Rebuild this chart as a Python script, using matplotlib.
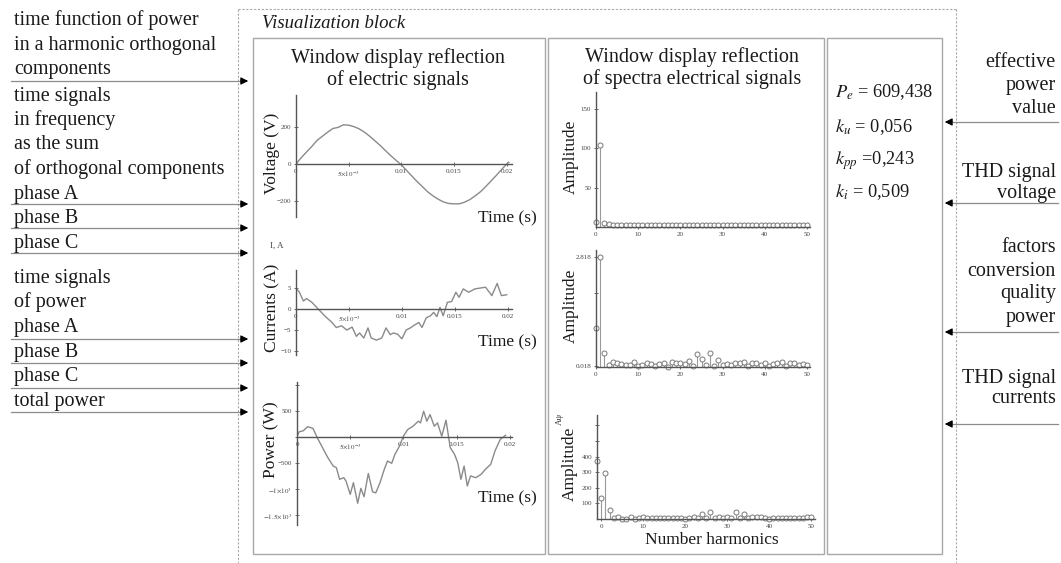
"""Visualization block: signal windows, spectra and quality factors."""

import matplotlib

matplotlib.use("Agg")
import matplotlib.pyplot as plt  # noqa: E402
from matplotlib.patches import Rectangle  # noqa: E402

plt.rcParams["font.family"] = ["Liberation Serif", "DejaVu Serif"]
plt.rcParams["mathtext.fontset"] = "stix"

W, H = 1061, 563

# ---- time signals ----
volt_t = [0, 0.0005, 0.001, 0.0015, 0.002, 0.0025, 0.003, 0.0035, 0.004, 0.0045,
          0.005, 0.0055, 0.006, 0.0065, 0.007, 0.0075, 0.008, 0.0085, 0.009, 0.0095,
          0.01, 0.0105, 0.011, 0.0115, 0.012, 0.0125, 0.013, 0.0135, 0.014, 0.0145,
          0.015, 0.0155, 0.016, 0.0165, 0.017, 0.0175, 0.018, 0.0185, 0.019, 0.0195,
          0.02, 0.0202]
volt_v = [0, 35, 65, 95, 128, 150, 172, 192, 198, 212,
          210, 202, 190, 172, 150, 125, 100, 72, 45, 20,
          -5, -35, -65, -95, -122, -150, -172, -190, -205, -213,
          -215, -215, -206, -192, -172, -150, -122, -92, -62, -30,
          0, 10]

curr_t = [0, 0.0003, 0.0007, 0.001, 0.0015, 0.0021, 0.0027, 0.0034, 0.0038, 0.0043,
          0.0048, 0.0053, 0.0057, 0.006, 0.0064, 0.0068, 0.0071, 0.0076, 0.0081, 0.0085,
          0.0089, 0.0092, 0.0096, 0.01, 0.0104, 0.0108, 0.0112, 0.0116, 0.0119, 0.0123,
          0.0127, 0.013, 0.0133, 0.0136, 0.0139, 0.0143, 0.0147, 0.0151, 0.0154, 0.0158,
          0.0163, 0.0169, 0.0179, 0.0185, 0.019, 0.0194, 0.0199]
curr_i = [4.9, 4.1, 1.9, 2.5, 1.6, 0.0, -1.6, -3.2, -4.4, -4.0,
          -5.0, -4.3, -6.5, -5.7, -6.9, -4.5, -6.9, -7.4, -6.9, -4.5,
          -6.1, -5.7, -6.0, -7.1, -5.0, -4.5, -3.8, -3.2, -4.4, -2.1,
          -1.6, -0.8, -1.8, 0.4, -1.6, 1.6, 1.8, 4.0, 2.8, 4.8,
          4.0, 4.8, 5.2, 3.2, 6.1, 3.2, 3.4]

pow_t = [0, 0.0002, 0.0006, 0.001, 0.0015, 0.0019, 0.0024, 0.0029, 0.0034, 0.0037,
         0.004, 0.0044, 0.0046, 0.005, 0.0053, 0.0057, 0.006, 0.0063, 0.0067, 0.0071,
         0.0074, 0.0078, 0.0082, 0.0085, 0.0089, 0.0092, 0.0096, 0.01, 0.0104, 0.0109,
         0.0114, 0.0116, 0.0119, 0.0122, 0.0125, 0.0129, 0.0132, 0.0136, 0.014, 0.0144,
         0.0148, 0.0151, 0.0154, 0.0157, 0.016, 0.0163, 0.0168, 0.0173, 0.0177, 0.0182,
         0.0186, 0.0191, 0.0196]
pow_p = [5, 100, 121, 198, 166, -13, -205, -397, -557, -589,
         -813, -781, -845, -1101, -877, -1273, -987, -1147, -701, -1053,
         -1073, -877, -621, -461, -505, -333, -186, 15, 143, 207,
         303, 271, 495, 303, 431, 207, 271, 15, 322, -205,
         -333, -493, -813, -557, -941, -749, -781, -717, -621, -525,
         -269, -45, 32]

# ---- spectra ----
harm = list(range(51))
spec_u = [6, 104, 5.5, 4, 3, 3, 2.5, 2.5, 3, 2.5,
          2, 2.5, 2.5, 2, 3, 2.5, 2, 2, 2.5, 2,
          2, 2.5, 2, 2, 2.5, 2, 2.5, 2, 2, 2.5,
          2, 2.5, 2, 2, 2.5, 2, 2.5, 3, 2, 2,
          2.5, 2, 2, 2.5, 3, 2.5, 2, 2, 2.5, 2, 2.5]
spec_i = [1.0, 2.818, 0.36, 0.05, 0.13, 0.09, 0.07, 0.06, 0.05, 0.12,
          0.03, 0.04, 0.10, 0.08, 0.02, 0.08, 0.10, 0.01, 0.14, 0.09,
          0.11, 0.08, 0.15, 0.03, 0.34, 0.20, 0.05, 0.35, 0.03, 0.18,
          0.04, 0.07, 0.05, 0.09, 0.10, 0.13, 0.02, 0.10, 0.09, 0.05,
          0.09, 0.03, 0.07, 0.10, 0.12, 0.02, 0.11, 0.09, 0.05, 0.08, 0.04]
harm_p = list(range(-1, 51))
spec_p = [375, 133, 292, 58, 6, 12, 2, 2, 13, 3, 9,
          10, 9, 8, 8, 7, 7, 6, 6, 6, 6,
          1, 9, 10, 8, 32, 4, 47, 9, 12, 5,
          12, 9, 47, 4, 32, 6, 11, 10, 12, 8,
          1, 5, 6, 5, 6, 6, 6, 6, 8, 12, 12]

time_ticks = [0, 0.005, 0.01, 0.015, 0.02]
time_labels = ["0", r"$5{\times}10^{-3}$", "0.01", "0.015", "0.02"]

left_lines = [
    ("time function of power", 25), ("in a harmonic orthogonal", 50), ("components", 74),
    ("time signals", 101), ("in frequency", 125), ("as the sum", 149),
    ("of orthogonal components", 174), ("phase A", 199), ("phase B", 223),
    ("phase C", 248), ("time signals", 283), ("of power", 307), ("phase A", 332),
    ("phase B", 357), ("phase C", 381), ("total power", 406),
]
left_arrows = [81, 204, 228, 253, 339, 363, 388, 412]

right_lines = [
    ("effective", 67), ("power", 90), ("value", 113),
    ("THD signal", 177), ("voltage", 198),
    ("factors", 252), ("conversion", 276), ("quality", 298), ("power", 322),
    ("THD signal", 383), ("currents", 403),
]
right_arrows = [122, 203, 332, 424]

factor_lines = [
    (r"$P_e$ = 609,438", 97), (r"$k_u$ = 0,056", 132),
    (r"$k_{pp}$ =0,243", 165), (r"$k_i$ = 0,509", 197),
]

TXT = "#1a1a1a"
BOX = "#a8a8a8"
AX = "#555555"
CURVE = "#8a8a8a"


def rect(l, t, r, b):
    return [l / W, 1 - b / H, (r - l) / W, (b - t) / H]


def mathcad_axes(fig, box, xlim, ylim):
    ax = fig.add_axes(rect(*box))
    ax.set_facecolor("none")
    ax.set_xlim(*xlim)
    ax.set_ylim(*ylim)
    for side in ("top", "right"):
        ax.spines[side].set_visible(False)
    ax.spines["left"].set_position(("data", xlim[0]))
    ax.spines["bottom"].set_position(("data", 0))
    for side in ("left", "bottom"):
        ax.spines[side].set_color(AX)
        ax.spines[side].set_linewidth(1.0)
    ax.tick_params(direction="inout", length=3, width=0.6, color=AX,
                   labelsize=5, labelcolor="#444444", pad=2)
    return ax


fig = plt.figure(figsize=(W / 100, H / 100), dpi=100)
bg = fig.add_axes([0, 0, 1, 1])
bg.set_xlim(0, W)
bg.set_ylim(H, 0)
bg.axis("off")

# outer dotted block and inner panels
bg.plot([238, 238], [9, H], color=BOX, lw=0.8, ls=(0, (2, 1.5)))
bg.plot([956, 956], [9, H], color=BOX, lw=0.8, ls=(0, (2, 1.5)))
bg.plot([238, 956], [9, 9], color=BOX, lw=0.8, ls=(0, (2, 1.5)))
for l, t, r, b in [(253, 38, 545, 554), (548, 38, 824, 554), (827, 38, 942, 554)]:
    bg.add_patch(Rectangle((l, t), r - l, b - t, fill=False, ec=BOX, lw=1.0))
bg.text(262, 28, "Visualization block", fontsize=13.5, style="italic", color=TXT)

bg.text(398, 63, "Window display reflection", fontsize=14.5, ha="center", color=TXT)
bg.text(398, 85, "of electric signals", fontsize=14.5, ha="center", color=TXT)
bg.text(692, 62, "Window display reflection", fontsize=14.5, ha="center", color=TXT)
bg.text(692, 84, "of spectra electrical signals", fontsize=14.5, ha="center", color=TXT)

for s, y in left_lines:
    bg.text(14, y, s, fontsize=14.5, color=TXT)
for y in left_arrows:
    bg.plot([11, 240], [y, y], color="#8c8c8c", lw=0.9)
    bg.annotate("", xy=(251, y), xytext=(238, y),
                arrowprops=dict(arrowstyle="-|>", color="black", lw=0.8, mutation_scale=11))

for s, y in right_lines:
    bg.text(1056, y, s, fontsize=14.5, ha="right", color=TXT)
for y in right_arrows:
    bg.plot([1058, 953], [y, y], color="#8c8c8c", lw=0.9)
    bg.annotate("", xy=(942, y), xytext=(955, y),
                arrowprops=dict(arrowstyle="-|>", color="black", lw=0.8, mutation_scale=11))

for s, y in factor_lines:
    bg.text(835, y, s, fontsize=13.2, color=TXT)

# ---- voltage ----
ax = mathcad_axes(fig, (296, 95, 512, 217), (0, 0.0205), (-286, 373))
ax.plot(volt_t, volt_v, color=CURVE, lw=1.0)
ax.set_xticks(time_ticks, time_labels)
ax.set_yticks([-200, 0, 200], ["−200", "0", "200"])
bg.text(272, 153, "Voltage (V)", fontsize=12.5, rotation=90, ha="center", va="center", color=TXT)
bg.text(537, 222, "Time (s)", fontsize=12.5, ha="right", color=TXT)

# ---- currents ----
ax = mathcad_axes(fig, (296, 270, 512, 355), (0, 0.0204), (-10.95, 9.3))
ax.plot(curr_t, curr_i, color=CURVE, lw=1.0)
ax.set_xticks(time_ticks, time_labels)
ax.set_yticks([-10, -5, 0, 5], ["−10", "−5", "0", "5"])
bg.text(270, 248, "I, A", fontsize=6.5, color="#444444")
bg.text(272, 308, "Currents (A)", fontsize=12.5, rotation=90, ha="center", va="center", color=TXT)
bg.text(537, 346, "Time (s)", fontsize=12.5, ha="right", color=TXT)

# ---- power ----
ax = mathcad_axes(fig, (297, 382, 512, 525), (0, 0.0202), (-1690, 1056))
ax.plot(pow_t, pow_p, color=CURVE, lw=1.0)
ax.set_xticks(time_ticks, time_labels)
ax.set_yticks([-1500, -1000, -500, 0, 500, 1000],
              [r"$-1.5{\times}10^{3}$", r"$-1{\times}10^{3}$", "−500", "", "500", ""])
bg.text(271, 440, "Power (W)", fontsize=12.5, rotation=90, ha="center", va="center", color=TXT)
bg.text(537, 502, "Time (s)", fontsize=12.5, ha="right", color=TXT)


def stems(ax, x, y, ms=3.6):
    ax.vlines(x, 0, y, color="#9a9a9a", lw=0.8, clip_on=False)
    ax.plot(x, y, "o", mfc="white", mec="#7a7a7a", mew=0.7, ms=ms, clip_on=False, ls="none")


# ---- voltage spectrum ----
ax = mathcad_axes(fig, (596, 92, 810, 227), (0, 50.7), (0, 171))
stems(ax, harm, spec_u)
ax.set_xticks(range(0, 51, 10))
ax.set_yticks([50, 100, 150])
bg.text(571, 157, "Amplitude", fontsize=12.5, rotation=90, ha="center", va="center", color=TXT)

# ---- current spectrum ----
ax = mathcad_axes(fig, (596, 250, 810, 367), (0, 50.7), (0, 3.0))
stems(ax, harm, spec_i)
ax.set_xticks(range(0, 51, 10))
ax.set_yticks([0.018, 0.951, 1.885, 2.818], ["0.018", "", "", "2.818"])
bg.text(571, 306, "Amplitude", fontsize=12.5, rotation=90, ha="center", va="center", color=TXT)

# ---- power spectrum ----
ax = mathcad_axes(fig, (597, 415, 815, 519), (-1, 50.9), (0, 667))
stems(ax, harm_p, spec_p)
ax.set_xticks(range(0, 51, 10))
ax.set_yticks([100, 200, 300, 400, 500, 600], ["100", "200", "300", "400", "", ""])
bg.text(570, 464, "Amplitude", fontsize=12.5, rotation=90, ha="center", va="center", color=TXT)
bg.text(560, 419, "Aψ", fontsize=6.5, rotation=90, ha="center", va="center", color="#333333")
bg.text(712, 544, "Number harmonics", fontsize=12.5, ha="center", color=TXT)

fig.savefig("out.png", dpi=100)
